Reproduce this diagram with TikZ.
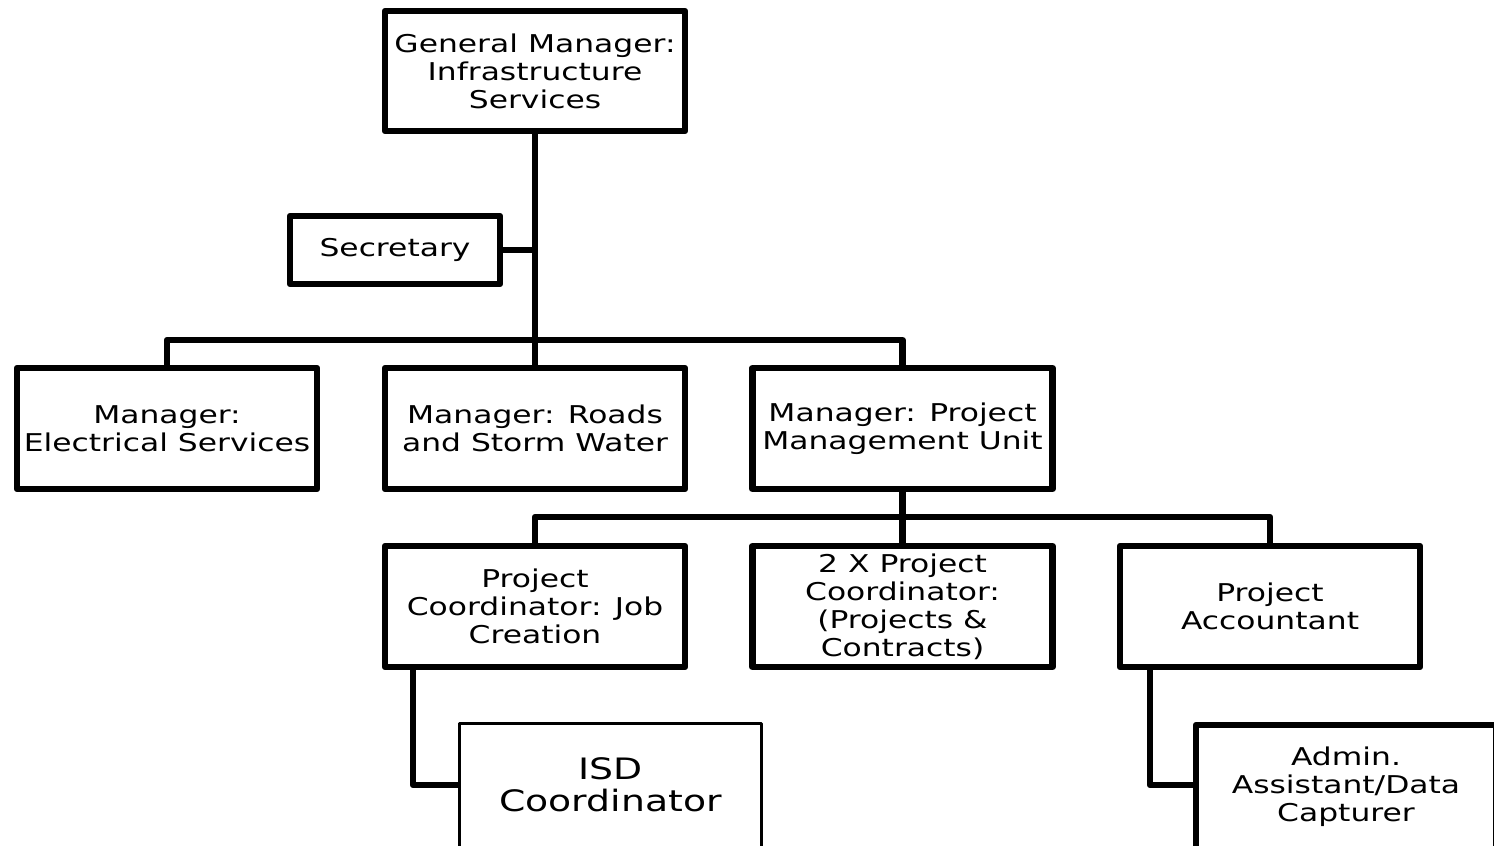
\documentclass[tikz,border=0pt]{standalone}
\usepackage{fontspec}
\setmainfont{DejaVu Sans}[FakeStretch=1.28]
\begin{document}
\begin{tikzpicture}[x=1pt,y=-1pt,
  box/.style={draw=black,line width=6.5pt,line join=round,fill=white,
    minimum width=300pt,minimum height=121pt,inner sep=0pt,align=center,
    font=\fontsize{24.5}{28}\selectfont},
  thinbox/.style={box,line width=3pt,minimum width=302pt,minimum height=130pt,
    font=\fontsize{29.5}{32.5}\selectfont},
  conn/.style={line width=6.5pt,line join=round}]
\useasboundingbox (0,0) rectangle (1494,846);
\clip (0,0) rectangle (1494,846);
% nodes
\node[box,minimum height=120pt] (gm) at (535,71) {General Manager:\\Infrastructure\\Services};
\node[box,minimum width=210pt,minimum height=68pt] (sec) at (395,250) {Secretary};
\node[box] (elec) at (167,428.5) {Manager:\\Electrical Services};
\node[box] (roads) at (535,428.5) {Manager: Roads\\and Storm Water};
\node[box] (pmu) at (902.5,428.5) {Manager: Project\\Management Unit};
\node[box] (job) at (535,606.5) {Project\\Coordinator: Job\\Creation};
\node[box] (pc) at (902.5,606.5) {2 X Project\\Coordinator:\\(Projects \&\\Contracts)};
\node[box] (acc) at (1270,606.5) {Project\\Accountant};
\node[thinbox] (isd) at (610.5,788.5) {\raisebox{-2.5pt}[0pt][0pt]{\parbox{300pt}{\centering ISD\\Coordinator}}};
\node[box,minimum height=130pt] (adm) at (1346,790) {\raisebox{-3pt}[0pt][0pt]{\parbox{300pt}{\centering Admin.\\Assistant/Data\\Capturer}}};
% bus coordinates
\coordinate (b1) at (535,340);
\coordinate (b2) at (902.5,517);
% connectors
\draw[conn] (gm.south) -- (b1);
\draw[conn] (sec.east) -- (sec.east -| gm.south);
\draw[conn] (elec.north) -- (elec.north |- b1) -- (pmu.north |- b1) -- (pmu.north);
\draw[conn] (b1) -- (roads.north);
\draw[conn] (pmu.south) -- (pc.north);
\draw[conn] (job.north) -- (job.north |- b2) -- (acc.north |- b2) -- (acc.north);
\coordinate (j1) at (413,670);
\coordinate (a1) at (1150,670);
\draw[conn] (j1) -- (j1 |- 0,785) -- (isd.west |- 0,785);
\draw[conn] (a1) -- (a1 |- 0,785) -- (adm.west |- 0,785);
\end{tikzpicture}
\end{document}
